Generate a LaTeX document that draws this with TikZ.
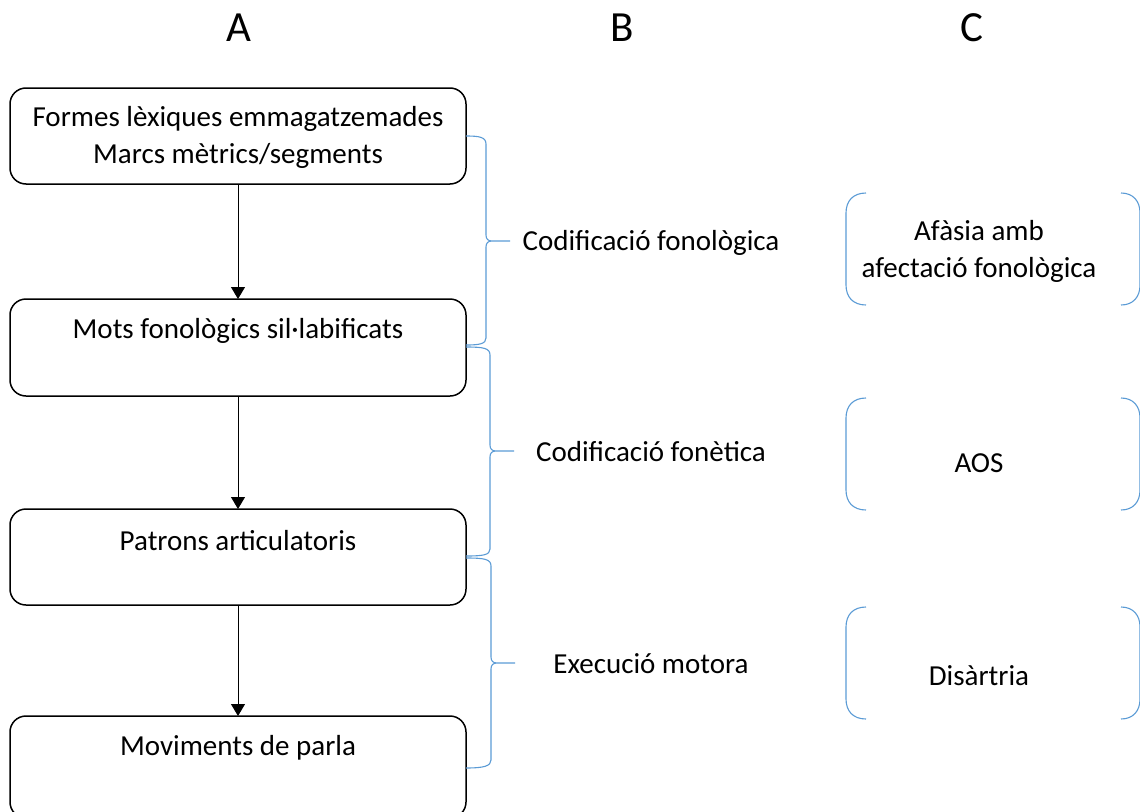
\documentclass[tikz,border=0pt]{standalone}
\usepackage{fontspec}
\setmainfont{Carlito}
\usetikzlibrary{arrows.meta}
\begin{document}
\begin{tikzpicture}[x=1pt,y=-1pt,
  box/.style={draw=black,line width=1.5pt,rounded corners=16pt},
  arr/.style={-{Triangle[length=12pt,width=14pt]},line width=0.9pt},
  brc/.style={draw={rgb,255:red,91;green,155;blue,213},line width=1.1pt},
  txt/.style={font=\fontsize{29}{37}\selectfont,align=center,inner sep=0pt},
  hdr/.style={font=\fontsize{43}{48}\selectfont,inner sep=0pt}]
\useasboundingbox (0,0) rectangle (1140,811);
% headers
\node[hdr] (hA) at (239,28) {A};
\node[hdr] (hB) at (622,28) {B};
\node[hdr] (hC) at (972,28) {C};
% boxes
\draw[box] (10,88) rectangle (466,184);
\node[txt] (b1) at (238,137) {Formes lèxiques emmagatzemades\\Marcs mètrics/segments};
\draw[box] (10,299) rectangle (466,396);
\node[txt] (b2) at (238,331) {Mots fonològics sil·labificats};
\draw[box] (10,509) rectangle (466,605);
\node[txt] (b3) at (238,541) {Patrons articulatoris};
\draw[box] (10,716) rectangle (466,818);
\node[txt] (b4) at (238,748) {Moviments de parla};
\coordinate (a1s) at (238,184); \coordinate (a1e) at (238,299);
\coordinate (a2s) at (238,396); \coordinate (a2e) at (238,509);
\coordinate (a3s) at (238,605); \coordinate (a3e) at (238,716);
\draw[arr] (a1s) -- (a1e);
\draw[arr] (a2s) -- (a2e);
\draw[arr] (a3s) -- (a3e);
% braces
\draw[brc] (466,136) .. controls (479,136) and (486,137) .. (486,144) -- (486,235) .. controls (486,239) and (488,241) .. (492,241) -- (510,241)
  (492,241) .. controls (488,241) and (486,243) .. (486,247) -- (486,338) .. controls (486,344) and (479,345) .. (466,345);
\draw[brc] (466,347) .. controls (483,347) and (490,348) .. (490,355) -- (490,445) .. controls (490,449) and (492,451) .. (496,451) -- (514,451)
  (496,451) .. controls (492,451) and (490,453) .. (490,457) -- (490,549) .. controls (490,555) and (483,556) .. (466,556);
\draw[brc] (466,558) .. controls (484,558) and (491,559) .. (491,566) -- (491,657) .. controls (491,661) and (493,663) .. (497,663) -- (515,663)
  (497,663) .. controls (493,663) and (491,665) .. (491,669) -- (491,760) .. controls (491,766) and (484,768) .. (466,768);
\node[txt] (c1) at (651,243) {Codificació fonològica};
\node[txt] (c2) at (651,452) {Codificació fonètica};
\node[txt] (c3) at (651,664) {Execució motora};
% C brackets
\foreach \t/\b in {193/305, 398/510, 607/719}{
  \draw[brc] (866,\t) .. controls (853,\t) and (846,\t+8) .. (846,\t+20) -- (846,\b-20) .. controls (846,\b-8) and (853,\b) .. (866,\b);
  \draw[brc] (1121,\t) .. controls (1133,\t) and (1140,\t+8) .. (1140,\t+20) -- (1140,\b-20) .. controls (1140,\b-8) and (1133,\b) .. (1121,\b);
}
\node[txt] (d1) at (979,251) {Afàsia amb\\afectació fonològica};
\node[txt] (d2) at (979,463) {AOS};
\node[txt] (d3) at (979,676) {Disàrtria};
\end{tikzpicture}
\end{document}
